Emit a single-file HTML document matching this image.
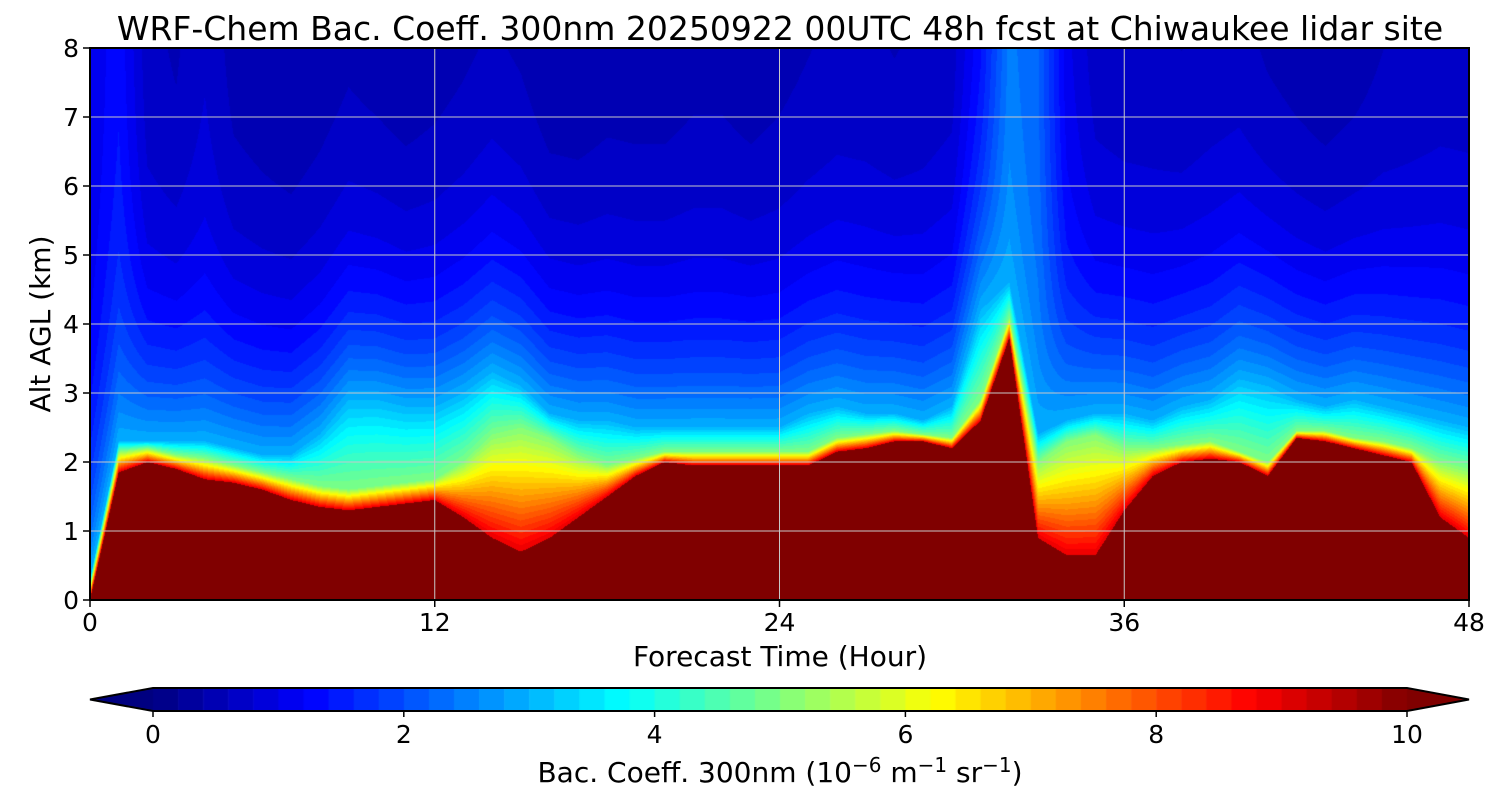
<!DOCTYPE html>
<html><head><meta charset="utf-8"><style>
body{margin:0;background:#fff;font-family:"DejaVu Sans",sans-serif;}
#wrap{position:relative;width:1500px;height:800px;overflow:hidden}
canvas{position:absolute;left:0;top:0}
text{font-family:"DejaVu Sans",sans-serif}
</style></head><body>
<div id="wrap">
<canvas id="c" width="1500" height="800"></canvas>
<svg id="s" width="1500" height="800" style="position:absolute;left:0;top:0"></svg>
</div>
<script>
// data
const hours=[0,1,2,3,4,5,6,7,8,9,10,11,12,13,14,15,16,17,18,19,20,21,22,23,24,25,26,27,28,29,30,31,32,33,34,35,36,37,38,39,40,41,42,43,44,45,46,47,48];
const layerTop=[0,1.85,2.0,1.9,1.75,1.7,1.6,1.45,1.35,1.3,1.35,1.4,1.45,1.2,0.9,0.7,0.9,1.2,1.5,1.8,2.0,1.95,1.95,1.95,1.95,1.95,2.15,2.2,2.3,2.3,2.2,2.6,3.8,0.9,0.65,0.65,1.3,1.8,2.0,2.05,2.0,1.8,2.35,2.3,2.2,2.1,2.0,1.2,0.9];
const greenTop=[0.2,2.15,2.2,2.1,2.05,1.95,1.85,1.75,1.65,1.6,1.65,1.7,1.75,2.0,2.4,2.5,2.35,2.1,1.95,2.05,2.15,2.15,2.15,2.15,2.15,2.15,2.35,2.4,2.45,2.4,2.35,2.9,4.1,2.0,2.3,2.4,2.2,2.2,2.25,2.3,2.15,2.0,2.45,2.45,2.35,2.3,2.2,2.0,1.9];
const cyanTop=[0.3,2.3,2.3,2.3,2.3,2.2,2.1,2.1,2.4,2.9,2.9,2.8,2.8,3.0,3.3,3.1,2.7,2.6,2.6,2.5,2.5,2.5,2.5,2.5,2.5,2.7,2.8,2.7,2.7,2.6,2.8,4.2,4.6,2.4,2.6,2.7,2.7,2.6,2.8,2.9,3.2,3.1,2.9,2.8,2.9,2.8,2.7,2.6,2.5];
const upperVal=[1.0,1.3,0.6,0.5,0.7,0.45,0.4,0.35,0.4,0.45,0.4,0.35,0.4,0.45,0.5,0.45,0.35,0.35,0.4,0.4,0.4,0.45,0.45,0.4,0.45,0.5,0.55,0.55,0.5,0.55,0.6,1.2,2.4,2.2,1.0,0.6,0.55,0.55,0.5,0.55,0.55,0.45,0.4,0.35,0.4,0.5,0.55,0.6,0.6];
const xTicks=[0,12,24,36,48];
const yTicks=[0,1,2,3,4,5,6,7,8];
const cbTicks=[0,2,4,6,8,10];

const X0=90,X1=1469,Y0=600,Y1=48;
const xs=h=>X0+(X1-X0)*h/48, ys=z=>Y0-(Y0-Y1)*z/8;
const cbx=v=>153+(1407-153)*v/10;
function jet(x){x=Math.max(0,Math.min(1,x));const c=t=>Math.round(255*Math.max(0,Math.min(1,1.5-Math.abs(t))));return [c(4*x-3),c(4*x-2),c(4*x-1)];}
function interp(arr,t){const i=Math.min(Math.floor(t),47),f=t-i;return arr[i]*(1-f)+arr[i+1]*f;}
function val(t,z){
  const a=interp(layerTop,t),b=Math.max(interp(greenTop,t),a+0.05),c=Math.max(interp(cyanTop,t),b+0.05),u=interp(upperVal,t);
  if(z<a) return 10.5;
  if(z<b) return 9-4*(z-a)/(b-a);
  if(z<c) return 5-2*(z-b)/(c-b);
  return u+(3-u)*Math.exp(-(z-c)/1.6);
}
const cv=document.getElementById('c'),ctx=cv.getContext('2d');
const img=ctx.createImageData(X1-X0,Y0-Y1);
for(let px=0;px<X1-X0;px++){const t=48*(px+0.5)/(X1-X0);
 for(let py=0;py<Y0-Y1;py++){const z=8*(Y0-Y1-py-0.5)/(Y0-Y1);
  let v=val(t,z);v=Math.floor(v/0.2)*0.2+0.1;const col=jet(Math.min(v,10)/10);
  const k=4*(py*(X1-X0)+px);img.data[k]=col[0];img.data[k+1]=col[1];img.data[k+2]=col[2];img.data[k+3]=255;}}
ctx.putImageData(img,X0,Y1);
// colorbar
for(let i=0;i<50;i++){const v=i*0.2;const col=jet((v+0.1)/10);ctx.fillStyle=`rgb(${col})`;ctx.fillRect(cbx(v),688,cbx(v+0.2)-cbx(v)+0.6,23);}
ctx.fillStyle=`rgb(${jet(0)})`;ctx.beginPath();ctx.moveTo(153,688);ctx.lineTo(90,699.5);ctx.lineTo(153,711);ctx.fill();
ctx.fillStyle=`rgb(${jet(1)})`;ctx.beginPath();ctx.moveTo(1407,688);ctx.lineTo(1469,699.5);ctx.lineTo(1407,711);ctx.fill();

const S=document.getElementById('s');const NS='http://www.w3.org/2000/svg';
function el(tag,attrs,txt){const e=document.createElementNS(NS,tag);for(const k in attrs)e.setAttribute(k,attrs[k]);if(txt!==undefined)e.textContent=txt;S.appendChild(e);return e;}
xTicks.forEach(h=>{let g=el('line',{x1:xs(h),x2:xs(h),y1:Y1,y2:Y0,stroke:'#c8c8c8','stroke-width':1});

let tk=el('line',{x1:xs(h),x2:xs(h),y1:Y0,y2:Y0+7,stroke:'#000','stroke-width':1.5});

let t=el('text',{x:xs(h),y:631,'font-size':25,'text-anchor':'middle'},h);
});
yTicks.forEach(z=>{let g=el('line',{x1:X0,x2:X1,y1:ys(z),y2:ys(z),stroke:'#c8c8c8','stroke-width':1});

let tk=el('line',{x1:X0-7,x2:X0,y1:ys(z),y2:ys(z),stroke:'#000','stroke-width':1.5});

let t=el('text',{x:79,y:ys(z)+9,'font-size':25,'text-anchor':'end'},z);
});
let fr=el('rect',{x:X0,y:Y1,width:X1-X0,height:Y0-Y1,fill:'none',stroke:'#000','stroke-width':2});

cbTicks.forEach(v=>{let tk=el('line',{x1:cbx(v),x2:cbx(v),y1:711,y2:717,stroke:'#000','stroke-width':1.5});

let t=el('text',{x:cbx(v),y:743,'font-size':25,'text-anchor':'middle'},v);
});
let cbo=el('polygon',{points:'153,688 1407,688 1469,699.5 1407,711 153,711 90,699.5',fill:'none',stroke:'#000','stroke-width':2});

</script>
<svg width="1500" height="800" style="position:absolute;left:0;top:0;pointer-events:none">
<text x="780" y="40" font-size="33" text-anchor="middle">WRF-Chem Bac. Coeff. 300nm  20250922 00UTC 48h fcst at Chiwaukee lidar site</text>
<text x="780" y="666" font-size="28" text-anchor="middle">Forecast Time (Hour)</text>
<text transform="translate(50,324) rotate(-90)" font-size="28" text-anchor="middle">Alt AGL (km)</text>
<text x="780" y="782" font-size="28" text-anchor="middle">Bac. Coeff. 300nm  (10<tspan dy="-10" font-size="20">−6</tspan><tspan dy="10"> m</tspan><tspan dy="-10" font-size="20">−1</tspan><tspan dy="10"> sr</tspan><tspan dy="-10" font-size="20">−1</tspan><tspan dy="10">)</tspan></text>
</svg>
</body></html>
